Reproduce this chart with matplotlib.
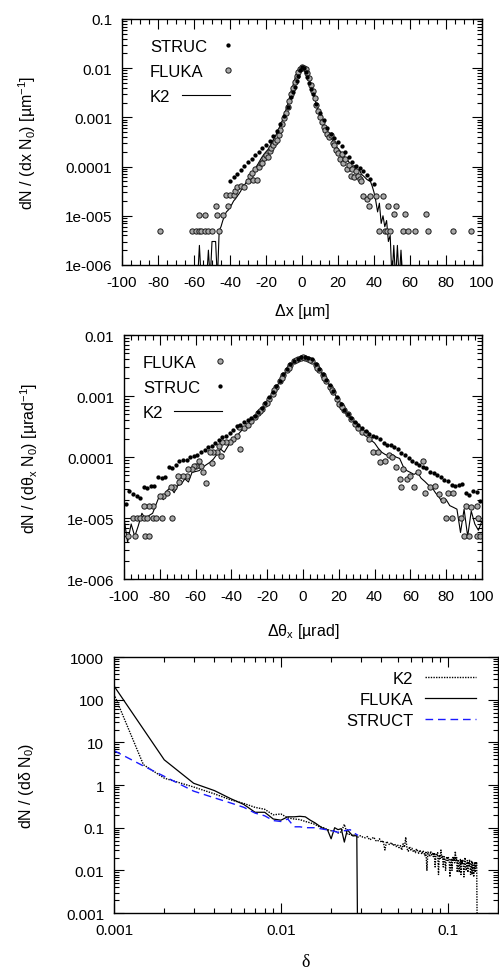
import numpy as np
import matplotlib
matplotlib.use('Agg')
import matplotlib.pyplot as plt
from matplotlib.ticker import FixedLocator, MultipleLocator, LogLocator, NullFormatter, FixedFormatter
from matplotlib.legend_handler import HandlerLine2D
from matplotlib.lines import Line2D

plt.rcParams['font.family'] = ['Liberation Sans', 'DejaVu Sans']
plt.rcParams['mathtext.fontset'] = 'custom'
plt.rcParams['mathtext.rm'] = 'Liberation Sans'
plt.rcParams['mathtext.it'] = 'Liberation Sans:italic'
plt.rcParams['mathtext.default'] = 'regular'
plt.rcParams['axes.unicode_minus'] = False

# ---------------- panel 1 : dx distribution ----------------
k2_dx = np.arange(-58, 59)
k2_dx_val = [
    5e-7, 2.5e-6, 5e-7, 5e-7, 5e-7, 5e-7, 2e-6, 5e-7, 3e-6, 3e-6,
    3e-6, 5e-7, 5e-6, 6e-6, 8e-6, 1.0e-5, 1.2e-5, 1.3e-5, 1.5e-5, 1.7e-5,
    2.0e-5, 2.2e-5, 2.5e-5, 2.8e-5, 3.2e-5, 3.8e-5, 4.2e-5, 4.8e-5, 5.5e-5, 6.0e-5,
    7.0e-5, 8.0e-5, 9.0e-5, 1.05e-4, 1.2e-4, 1.4e-4, 1.6e-4, 1.8e-4, 2.0e-4, 2.2e-4,
    2.5e-4, 3.0e-4, 3.5e-4, 4.0e-4, 4.8e-4, 5.8e-4, 7.0e-4, 8.5e-4, 1.1e-3, 1.4e-3,
    1.8e-3, 2.5e-3, 3.5e-3, 4.5e-3, 6.0e-3, 7.8e-3, 9.0e-3, 1.0e-2, 1.05e-2, 1.0e-2,
    9.0e-3, 7.5e-3, 6.0e-3, 4.5e-3, 3.4e-3, 2.5e-3, 1.8e-3, 1.4e-3, 1.1e-3, 8.5e-4,
    7.0e-4, 6.0e-4, 5.2e-4, 4.6e-4, 4.0e-4, 3.4e-4, 3.0e-4, 2.6e-4, 2.3e-4, 2.1e-4,
    1.9e-4, 1.7e-4, 1.5e-4, 1.4e-4, 1.25e-4, 1.1e-4, 1.0e-4, 1.05e-4, 9.0e-5, 8.0e-5,
    8.5e-5, 7.0e-5, 6.5e-5, 6.0e-5, 5.5e-5, 5.2e-5, 5.0e-5, 4.0e-5, 3.0e-5, 2.0e-5,
    1.2e-5, 1.8e-5, 7e-6, 1.0e-5, 6e-6, 8e-6, 3e-6, 4e-6, 5e-7, 2.5e-6,
    5e-7, 2.5e-6, 5e-7, 2e-6, 5e-7, 5e-7, 5e-7]

struc_dx = [-40, -38, -36, -34, -32, -30, -28, -26, -24, -22, -20, -18, -16, -14, -12,
            -10, -8, -6, -5, -4, -3, -2, -1, 0, 1, 2, 3, 4, 5, 6, 8, 10, 12, 14, 16,
            18, 20, 22, 24, 26, 28, 30, 32, 34, 36, 38, 40]
struc_dx_val = [5.2e-5, 6.2e-5, 7.2e-5, 8.5e-5, 1.05e-4, 1.25e-4, 1.4e-4, 1.7e-4, 2.0e-4,
                2.4e-4, 2.8e-4, 3.3e-4, 4.1e-4, 5.3e-4, 7.2e-4, 1.05e-3, 1.6e-3, 2.6e-3,
                3.3e-3, 4.2e-3, 5.5e-3, 7.0e-3, 9.0e-3, 1.05e-2, 1.0e-2, 8.5e-3, 6.5e-3,
                5.0e-3, 3.8e-3, 3.0e-3, 1.9e-3, 1.2e-3, 8.8e-4, 6.2e-4, 4.7e-4, 3.8e-4,
                3.1e-4, 2.6e-4, 2.0e-4, 1.55e-4, 1.25e-4, 1.05e-4, 9.5e-5, 8.0e-5, 6.6e-5,
                5.5e-5, 4.5e-5]

fluka_dx = [
    # left tail (single / double counts)
    -79, -61, -59, -57, -56, -54, -52, -50, -46,
    -57, -54, -47, -44, -48, -41, -42, -40, -38, -37, -36, -34, -32,
    # core
    -30, -29, -28, -27, -26, -25, -24, -23, -22, -21, -20, -19, -18, -17, -16, -15,
    -14, -13, -12, -11, -10, -9, -8, -7, -6, -5, -4, -3, -2, -1, 0, 1, 2, 3, 4, 5,
    6, 7, 8, 9, 10, 11, 12, 13, 14, 15, 16, 17, 18, 19, 20, 21, 22, 23, 24, 25,
    26, 27, 28, 29, 30, 31, 32, 33,
    # right tail
    34, 36, 38, 41, 45, 37, 48, 52, 51, 57, 69,
    43, 46, 47, 49, 56, 59, 63, 70, 84, 94]
fluka_dx_val = [
    5e-6, 5e-6, 5e-6, 5e-6, 5e-6, 5e-6, 5e-6, 5e-6, 5e-6,
    1.05e-5, 1.05e-5, 1.05e-5, 1.05e-5, 1.6e-5, 1.6e-5, 2.6e-5, 2.6e-5, 2.6e-5,
    3.2e-5, 3.8e-5, 4.0e-5, 3.8e-5,
    5e-5, 6.5e-5, 7.5e-5, 5.4e-5, 9e-5, 5.4e-5, 1.0e-4, 1.2e-4, 1.2e-4, 1.5e-4,
    1.7e-4, 1.6e-4, 2.1e-4, 2.4e-4, 2.7e-4, 3.2e-4, 3.5e-4, 4.3e-4, 5.5e-4, 7.5e-4,
    9.5e-4, 1.2e-3, 1.6e-3, 2.2e-3, 3.0e-3, 4.0e-3, 5.2e-3, 6.8e-3, 8.5e-3, 9.8e-3,
    1.05e-2, 1.0e-2, 9.5e-3, 8.0e-3, 6.2e-3, 4.6e-3, 3.4e-3, 2.5e-3, 1.8e-3, 1.35e-3,
    1.0e-3, 8.0e-4, 6.5e-4, 5.5e-4, 4.6e-4, 4.0e-4, 4.4e-4, 3.0e-4, 2.7e-4, 2.2e-4,
    1.9e-4, 1.4e-4, 1.8e-4, 1.2e-4, 1.4e-4, 9e-5, 1.1e-4, 6.5e-5, 9e-5, 6e-5,
    8e-5, 6.5e-5, 5.5e-5, 5e-5,
    2.5e-5, 2.2e-5, 2.5e-5, 2.5e-5, 2.5e-5, 1.6e-5, 1.6e-5, 1.6e-5, 1.1e-5, 1.1e-5, 1.1e-5,
    5e-6, 5e-6, 5e-6, 5e-6, 5e-6, 5e-6, 5e-6, 5e-6, 5e-6, 5e-6]

# ---------------- panel 2 : dtheta_x distribution ----------------
k2_th = np.arange(-100, 101, 2)
k2_th_val = [
    1.0e-5, 4.0e-6, 8.0e-6, 5.0e-6, 7.5e-6, 1.2e-5, 9.6e-6, 1.1e-5, 1.2e-5, 1.7e-5,
    2.4e-5, 2.0e-5, 2.8e-5, 3.2e-5, 2.6e-5, 3.4e-5, 3.6e-5, 4.4e-5, 3.9e-5, 5.6e-5,
    5.8e-5, 6.0e-5, 6.8e-5, 7.5e-5, 8.2e-5, 9.3e-5, 1.12e-4, 1.35e-4, 1.2e-4, 1.5e-4,
    1.85e-4, 2.0e-4, 2.4e-4, 2.8e-4, 3.2e-4, 3.6e-4, 4.1e-4, 4.8e-4, 5.7e-4, 6.7e-4,
    8.0e-4, 1.0e-3, 1.25e-3, 1.55e-3, 1.95e-3, 2.4e-3, 2.9e-3, 3.4e-3, 3.8e-3, 4.1e-3,
    4.2e-3,
    4.1e-3, 3.9e-3, 3.5e-3, 3.0e-3, 2.5e-3, 2.05e-3, 1.65e-3, 1.3e-3, 1.05e-3, 8.3e-4,
    6.5e-4, 5.2e-4, 4.4e-4, 3.8e-4, 3.3e-4, 2.8e-4, 2.4e-4, 2.1e-4, 1.9e-4, 1.7e-4,
    1.4e-4, 1.2e-4, 1.1e-4, 1.05e-4, 1.1e-4, 1.0e-4, 9.5e-5, 7.0e-5, 6.0e-5, 5.6e-5,
    5.2e-5, 5.6e-5, 4.5e-5, 4.0e-5, 3.5e-5, 3.2e-5, 2.6e-5, 2.2e-5, 1.8e-5, 2.0e-5,
    1.6e-5, 1.5e-5, 1.4e-5, 5.8e-6, 1.4e-5, 5.0e-6, 1.3e-5, 8.0e-6, 6.3e-6, 9.0e-6]

struc_th = np.arange(-99, 100, 2)
struc_th_val = [
    1.7e-5, 2.8e-5, 2.5e-5, 2.3e-5, 2.1e-5, 3.2e-5, 3.1e-5, 3.3e-5, 3.4e-5, 4.8e-5,
    4.6e-5, 4.7e-5, 6.8e-5, 6.5e-5, 7.5e-5, 8.5e-5, 9.0e-5, 9.0e-5, 1.0e-4, 1.05e-4,
    1.1e-4, 1.2e-4, 1.3e-4, 1.45e-4, 1.5e-4, 1.7e-4, 1.9e-4, 2.1e-4, 2.2e-4, 2.5e-4,
    2.8e-4, 3.2e-4, 3.4e-4, 3.7e-4, 4.0e-4, 4.3e-4, 4.8e-4, 5.5e-4, 6.3e-4, 7.8e-4,
    9.5e-4, 1.15e-3, 1.45e-3, 1.8e-3, 2.3e-3, 2.8e-3, 3.3e-3, 3.8e-3, 4.1e-3, 4.3e-3,
    4.3e-3, 4.2e-3, 4.0e-3, 3.4e-3, 2.8e-3, 2.3e-3, 1.85e-3, 1.5e-3, 1.2e-3, 9.5e-4,
    7.5e-4, 6.0e-4, 5.0e-4, 4.3e-4, 3.7e-4, 3.3e-4, 3.0e-4, 2.7e-4, 2.4e-4, 2.2e-4,
    2.1e-4, 2.0e-4, 1.7e-4, 1.6e-4, 1.55e-4, 1.45e-4, 1.35e-4, 1.15e-4, 1.1e-4, 9.5e-5,
    8.5e-5, 8.0e-5, 7.5e-5, 7.0e-5, 6.5e-5, 5.8e-5, 5.5e-5, 5.0e-5, 4.8e-5, 4.2e-5,
    4.0e-5, 3.5e-5, 3.3e-5, 3.5e-5, 3.6e-5, 2.6e-5, 2.4e-5, 2.8e-5, 2.7e-5, 1.9e-5]

fluka_th = [
    # core
    -33, -31, -29, -27, -25, -23, -21, -19, -17, -15, -13, -11, -9, -7, -5, -3, -1,
    1, 3, 5, 7, 9, 11, 13, 15, 17, 19, 21, 23, 25, 27, 29, 31, 33,
    -24, -20, -16, -12, -8, -4, 0, 4, 8, 12, 16, 20, 22,
    # left tail
    -36, -35, -37, -39, -41, -43, -45, -46, -48, -50, -52, -47, -51, -54, -56, -57,
    -58, -60, -61, -62, -64, -65, -67, -69, -70, -72, -74, -76, -78, -80, -84, -86, -89,
    -95, -93, -91, -89, -87, -84, -82, -79, -73, -98, -94, -88, -86,
    # right tail
    35, 37, 39, 42, 43, 46, 48, 50, 52, 54, 55, 56, 58, 60, 62, 64, 67, 68, 71, 74,
    76, 78, 81, 84, 91, 94, 97, 80, 83, 88, 98, 90, 93, 97, 99]
fluka_th_val = [
    3.0e-4, 3.4e-4, 3.9e-4, 4.5e-4, 5.3e-4, 6.2e-4, 7.4e-4, 9.0e-4, 1.1e-3, 1.4e-3,
    1.75e-3, 2.2e-3, 2.7e-3, 3.2e-3, 3.7e-3, 4.0e-3, 4.2e-3,
    4.2e-3, 4.0e-3, 3.7e-3, 3.2e-3, 2.7e-3, 2.2e-3, 1.75e-3, 1.4e-3, 1.15e-3, 9.0e-4,
    7.2e-4, 6.0e-4, 5.0e-4, 4.2e-4, 3.5e-4, 3.0e-4, 2.6e-4,
    5.6e-4, 7.8e-4, 1.25e-3, 1.95e-3, 2.9e-3, 3.9e-3, 4.3e-3, 3.9e-3, 2.9e-3, 2.0e-3,
    1.25e-3, 7.5e-4, 6.6e-4,
    3.1e-4, 1.35e-4, 2.2e-4, 2.0e-4, 1.8e-4, 1.8e-4, 1.8e-4, 1.05e-4, 1.2e-4, 1.2e-4,
    1.2e-4, 1.5e-4, 8e-5, 3.8e-5, 5.6e-5, 7.2e-5,
    8.7e-5, 7.2e-5, 7.2e-5, 6.3e-5, 6.3e-5, 4.9e-5, 4.9e-5, 3.9e-5, 4.9e-5, 3.2e-5,
    3.2e-5, 2.6e-5, 2.3e-5, 2.3e-5, 1.6e-5, 1.6e-5, 1.6e-5,
    1e-5, 1e-5, 1e-5, 1e-5, 1e-5, 1e-5, 1e-5, 1e-5, 1e-5, 5e-6, 5e-6, 5e-6, 5e-6,
    2.5e-4, 2.0e-4, 1.2e-4, 1.2e-4, 8.2e-5, 8.7e-5, 1.1e-4, 1.0e-4, 6.8e-5, 4.4e-5,
    3.2e-5, 6.3e-5, 4.4e-5, 4.9e-5, 3.2e-5, 5.6e-5, 8.7e-5, 2.6e-5, 3.2e-5, 3.4e-5,
    2.5e-5, 2.0e-5, 2.6e-5, 2.6e-5, 1.6e-5, 1.5e-5, 1.6e-5, 1e-5, 1e-5, 1e-5, 1e-5,
    5e-6, 5e-6, 5e-6, 5e-6]

# ---------------- panel 3 : delta spectrum ----------------
fluka_d = [0.001, 0.002, 0.003, 0.004, 0.005, 0.006, 0.007, 0.008, 0.009, 0.010,
           0.011, 0.012, 0.013, 0.014, 0.015, 0.016, 0.017, 0.018, 0.019, 0.020,
           0.021, 0.022, 0.023, 0.024, 0.025, 0.026, 0.027, 0.028, 0.0285, 0.029]
fluka_d_val = [210, 3.9, 1.1, 0.74, 0.48, 0.35, 0.23, 0.23, 0.16, 0.15,
               0.18, 0.18, 0.185, 0.18, 0.15, 0.13, 0.11, 0.095, 0.09, 0.055,
               0.1, 0.09, 0.095, 0.046, 0.09, 0.075, 0.064, 0.065, 0.063, 1e-5]

struct_d = [0.001, 0.0015, 0.002, 0.003, 0.004, 0.005, 0.006, 0.007, 0.008, 0.009,
            0.010, 0.011, 0.012, 0.013, 0.014, 0.016, 0.018, 0.020, 0.022, 0.024,
            0.026, 0.027, 0.029]
struct_d_val = [6.4, 2.8, 1.6, 0.72, 0.5, 0.38, 0.3, 0.22, 0.19, 0.147,
                0.14, 0.16, 0.105, 0.105, 0.1, 0.1, 0.092, 0.086, 0.078, 0.085,
                0.09, 0.078, 0.066]

k2_d_head = [0.001, 0.0015]
k2_d_head_val = [135, 3.0]
k2_d_tail_val = [
    1.45, 0.9, 0.62, 0.45, 0.37, 0.3, 0.27, 0.2, 0.21, 0.17,
    0.16, 0.155, 0.14, 0.13, 0.12, 0.105, 0.1, 0.09, 0.085, 0.085,
    0.075, 0.08, 0.12, 0.07, 0.07, 0.065, 0.07, 0.06, 0.065, 0.06,
    0.058, 0.062, 0.052, 0.055, 0.06, 0.05, 0.048, 0.055, 0.045, 0.05,
    0.03, 0.048, 0.042, 0.04, 0.045, 0.038, 0.042, 0.036, 0.04, 0.034,
    0.038, 0.03, 0.042, 0.035, 0.06, 0.032, 0.028, 0.036, 0.03, 0.033,
    0.028, 0.03, 0.026, 0.032, 0.028, 0.025, 0.03, 0.027, 0.024, 0.029,
    0.026, 0.022, 0.028, 0.01, 0.027, 0.024, 0.021, 0.028, 0.023, 0.025,
    0.021, 0.026, 0.012, 0.024, 0.022, 0.026, 0.008, 0.023, 0.019, 0.03,
    0.02, 0.022, 0.012, 0.021, 0.018, 0.01, 0.019, 0.021, 0.017, 0.02,
    0.018, 0.007, 0.016, 0.019, 0.01, 0.02, 0.017, 0.021, 0.015, 0.028,
    0.016, 0.02, 0.009, 0.018, 0.015, 0.009, 0.014, 0.018, 0.008, 0.017,
    0.014, 0.018, 0.012, 0.007, 0.015, 0.02, 0.011, 0.01, 0.014, 0.017,
    0.009, 0.016, 0.013, 0.018, 0.012, 0.008, 0.014, 0.017, 0.008, 0.015,
    0.013, 0.007, 0.011, 0.015, 0.009, 0.016, 0.012, 0.015, 0.0005]
k2_d = np.concatenate([k2_d_head, np.arange(2, 2 + len(k2_d_tail_val)) / 1000.0])
k2_d_val = k2_d_head_val + k2_d_tail_val

# tick labels
lin_ticks = [-100, -80, -60, -40, -20, 0, 20, 40, 60, 80, 100]
lin_labels = ['-100', '-80', '-60', '-40', '-20', '0', '20', '40', '60', '80', '100']
y1_ticks = [1e-6, 1e-5, 1e-4, 1e-3, 1e-2, 1e-1]
y1_labels = ['1e-006', '1e-005', '0.0001', '0.001', '0.01', '0.1']
y2_ticks = [1e-6, 1e-5, 1e-4, 1e-3, 1e-2]
y2_labels = ['1e-006', '1e-005', '0.0001', '0.001', '0.01']
y3_ticks = [1e-3, 1e-2, 1e-1, 1, 10, 100, 1000]
y3_labels = ['0.001', '0.01', '0.1', '1', '10', '100', '1000']
x3_ticks = [0.001, 0.01, 0.1]
x3_labels = ['0.001', '0.01', '0.1']


class RightMarkerHandler(HandlerLine2D):
    # gnuplot-style key: symbol sits at the right end of the sample area
    # (only used for marker-only handles, so the line extent does not matter)
    def get_xdata(self, legend, xdescent, ydescent, width, height, fontsize):
        pos = width - xdescent - 0.05 * width
        return [pos, pos], [pos]


def style_axes(ax):
    ax.tick_params(which='both', direction='in', top=True, right=True,
                   labelsize=11, width=0.8, colors='black')
    ax.tick_params(which='major', length=7, pad=7)
    ax.tick_params(which='minor', length=3.5)
    for s in ax.spines.values():
        s.set_linewidth(1.0)


def log_y(ax, ticks, labels):
    ax.set_yscale('log')
    ax.yaxis.set_major_locator(FixedLocator(ticks))
    ax.yaxis.set_major_formatter(FixedFormatter(labels))
    ax.yaxis.set_minor_locator(LogLocator(base=10, subs=np.arange(2, 10), numticks=50))
    ax.yaxis.set_minor_formatter(NullFormatter())


def gnuplot_key(ax, handles, labels, x_text, x_sample, y_top):
    # texts left-justified in one legend, samples in a second one next to them
    blanks = [Line2D([], [], ls='none') for _ in labels]
    leg_t = ax.legend(blanks, labels, loc='upper left', bbox_to_anchor=(x_text, y_top),
                      frameon=False, fontsize=12, handlelength=0, handletextpad=0,
                      labelspacing=0.6, borderaxespad=0)
    ax.add_artist(leg_t)
    hm = {h: RightMarkerHandler() for h in handles if h.get_marker() not in ('None', None, '')}
    ax.legend(handles, [' '] * len(handles), loc='upper left', bbox_to_anchor=(x_sample, y_top),
              frameon=False, fontsize=12, handlelength=2.9, handletextpad=0,
              labelspacing=0.6, borderaxespad=0, handler_map=hm)


fig = plt.figure(figsize=(4.99, 9.70), dpi=100)

fluka_kw = dict(ls='none', marker='o', ms=3.8, mfc='#a8a8a8', mec='#1a1a1a', mew=0.7)
struc_kw = dict(ls='none', marker='o', ms=3.1, mfc='black', mec='black', mew=0)

# ---- panel 1
ax1 = fig.add_axes([0.2445, 0.7258, 0.7214, 0.2536])
k2_1, = ax1.plot(k2_dx, k2_dx_val, color='black', lw=0.8)
fl_1, = ax1.plot(fluka_dx, fluka_dx_val, **fluka_kw)
st_1, = ax1.plot(struc_dx, struc_dx_val, **struc_kw)
ax1.set_xlim(-100, 100)
ax1.set_ylim(1e-6, 0.1)
log_y(ax1, y1_ticks, y1_labels)
ax1.xaxis.set_major_locator(FixedLocator(lin_ticks))
ax1.xaxis.set_major_formatter(FixedFormatter(lin_labels))
ax1.xaxis.set_minor_locator(MultipleLocator(5))
style_axes(ax1)
ax1.set_xlabel('Δx [µm]', fontsize=11.5, labelpad=10)
ax1.set_ylabel('dN / (dx N$_0$) [µm$^{-1}$]', fontsize=11.5, labelpad=19)
gnuplot_key(ax1, [st_1, fl_1, k2_1], ['STRUC', 'FLUKA', 'K2'], 0.059, 0.148, 0.946)

# ---- panel 2
ax2 = fig.add_axes([0.2485, 0.402, 0.7174, 0.2515])
k2_2, = ax2.plot(k2_th, k2_th_val, color='black', lw=0.8)
fl_2, = ax2.plot(fluka_th, fluka_th_val, **fluka_kw)
st_2, = ax2.plot(struc_th, struc_th_val, **struc_kw)
ax2.set_xlim(-100, 100)
ax2.set_ylim(1e-6, 0.01)
log_y(ax2, y2_ticks, y2_labels)
ax2.xaxis.set_major_locator(FixedLocator(lin_ticks))
ax2.xaxis.set_major_formatter(FixedFormatter(lin_labels))
ax2.xaxis.set_minor_locator(MultipleLocator(4))
style_axes(ax2)
ax2.set_xlabel('Δθ$_x$ [µrad]', fontsize=11.5, labelpad=13)
ax2.set_ylabel('dN / (dθ$_x$ N$_0$) [µrad$^{-1}$]', fontsize=11.5, labelpad=19)
gnuplot_key(ax2, [fl_2, st_2, k2_2], ['FLUKA', 'STRUC', 'K2'], 0.034, 0.121, 0.945)

# ---- panel 3
ax3 = fig.add_axes([0.2285, 0.0577, 0.7695, 0.2639])
ax3.plot(k2_d, k2_d_val, color='black', lw=1.0, ls=(0, (1, 0.9)), label='K2')
ax3.plot(fluka_d, fluka_d_val, color='black', lw=0.9, label='FLUKA')
ax3.plot(struct_d, struct_d_val, color='#1a1aff', lw=1.0, ls=(0, (5.5, 3.5)), label='STRUCT')
ax3.set_xscale('log')
ax3.set_xlim(0.001, 0.2)
ax3.set_ylim(0.001, 1000)
log_y(ax3, y3_ticks, y3_labels)
ax3.xaxis.set_major_locator(FixedLocator(x3_ticks))
ax3.xaxis.set_major_formatter(FixedFormatter(x3_labels))
ax3.xaxis.set_minor_locator(LogLocator(base=10, subs=np.arange(2, 10), numticks=50))
ax3.xaxis.set_minor_formatter(NullFormatter())
style_axes(ax3)
ax3.set_xlabel('δ', fontsize=13, labelpad=12, family=['Liberation Serif', 'DejaVu Serif'])
ax3.set_ylabel('dN / (dδ N$_0$)', fontsize=11.5, labelpad=22)
ax3.legend(loc='upper right', bbox_to_anchor=(0.96, 0.972), frameon=False, markerfirst=False,
           fontsize=12, handlelength=3.05, handletextpad=0.72, labelspacing=0.35,
           borderaxespad=0)

fig.savefig('out.png', dpi=100)
